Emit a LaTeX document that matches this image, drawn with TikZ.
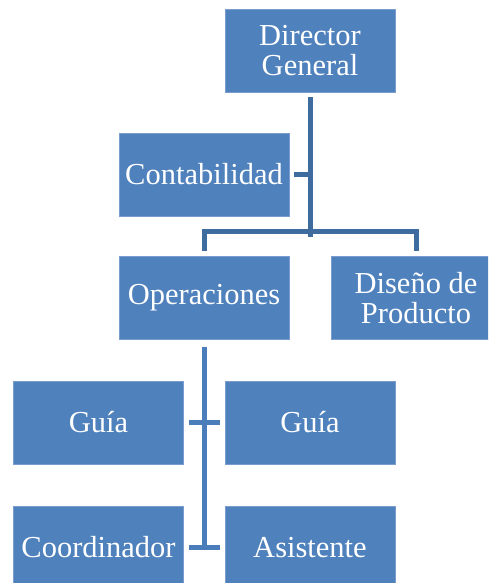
\documentclass[tikz,border=0pt]{standalone}
\usepackage{fontspec}
\setmainfont{Liberation Serif}
\definecolor{boxfill}{HTML}{4F81BD}
\definecolor{boxedge}{HTML}{7A9CCF}
\definecolor{linetop}{HTML}{3F6C9F}
\definecolor{linebot}{HTML}{4A7DBA}
\begin{document}
\begin{tikzpicture}[x=1pt,y=1pt,
  orgbox/.style={rectangle, fill=boxfill, draw=boxedge, line width=0.8pt,
    minimum width=170pt, minimum height=83pt, inner sep=0pt, align=center,
    text=white, font=\fontsize{30.5}{30.5}\selectfont},
  conn/.style={draw=linetop, line width=5pt},
  conntwo/.style={draw=linebot, line width=5pt}]
\useasboundingbox (0,0) rectangle (488,-583);
\clip (0,0) rectangle (488,-583);
\fill[white] (0,0) rectangle (488,-583);
\node[orgbox] (dir) at (310,-50.5) {Director\\General};
\node[orgbox] (cont) at (204,-174.5) {Contabilidad};
\node[orgbox] (ops) at (204,-298) {Operaciones};
\node[orgbox] (dis) at (416,-298) {Diseño de\\Producto};
\node[orgbox] (guiaa) at (98.5,-422.5) {Guía};
\node[orgbox] (guiab) at (310,-422.5) {Guía};
\node[orgbox] (coord) at (98.5,-547.5) {Coordinador};
\node[orgbox] (asis) at (310,-547.5) {Asistente};
\coordinate (j1) at (310,-236.5);
\draw[conn] ([yshift=-5pt]dir.south) -- (j1);
\draw[conn] ([xshift=5pt]cont.east) -- (cont.east -| j1);
\draw[conn] ([yshift=5pt]ops.north) |- ([yshift=5pt]dis.north |- j1) -- ([yshift=5pt]dis.north);
\coordinate (j2) at (ops.south |- coord.east);
\draw[conntwo] ([yshift=-7pt]ops.south) -- (j2);
\draw[conntwo] ([xshift=5pt]guiaa.east) -- ([xshift=-5pt]guiab.west);
\draw[conntwo] ([xshift=5pt]coord.east) -- ([xshift=-5pt]asis.west);
\end{tikzpicture}
\end{document}
